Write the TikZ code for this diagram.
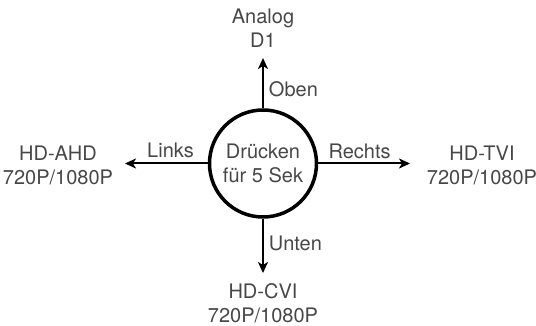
\documentclass[tikz,border=0pt]{standalone}
\usepackage{fontspec}
\setmainfont{TeX Gyre Heros}
\usetikzlibrary{arrows.meta}
\definecolor{labelgray}{HTML}{474747}
\tikzset{
  lbl/.style={text=labelgray, font=\fontsize{20}{24}\selectfont, align=center, inner sep=2pt},
  pushbtn/.style={circle, draw, line width=3.5pt, minimum size=107pt, inner sep=0pt},
  dirarrow/.style={line width=2pt, -{Stealth[length=11pt,width=10pt,inset=3pt]}}
}
\begin{document}
\begin{tikzpicture}[x=1pt,y=1pt]
            \useasboundingbox (-263,-162.5) rectangle (273,163.5);
            \node[pushbtn, lbl] (btn) at (0,0) {Drücken\\für 5 Sek};

            \coordinate (up) at (0,105.5);
            \coordinate (down) at (0,-109.5);
            \coordinate (left) at (-138,0);
            \coordinate (right) at (147,0);

            \path[dirarrow] (btn) edge node[lbl,pos=0.38,right,inner sep=5pt]{Oben} (up);
            \path[dirarrow] (btn) edge node[lbl,pos=0.45,right,inner sep=5pt]{Unten} (down);
            \path[dirarrow] (btn) edge node[lbl,pos=0.45,above,inner sep=5pt]{Links} (left);
            \path[dirarrow] (btn) edge node[lbl,pos=0.45,above,inner sep=4pt]{Rechts} (right);

            \node[lbl] (analog) at (0,135) {Analog\\D1};
            \node[lbl] (ahd) at (-205,-1.5) {HD-AHD\\720P/1080P};
            \node[lbl] (tvi) at (219,-1.5) {HD-TVI\\720P/1080P};
            \node[lbl,inner sep=0pt] (cvi) at (0,-140) {HD-CVI\\720P/1080P};
        \end{tikzpicture}
\end{document}
